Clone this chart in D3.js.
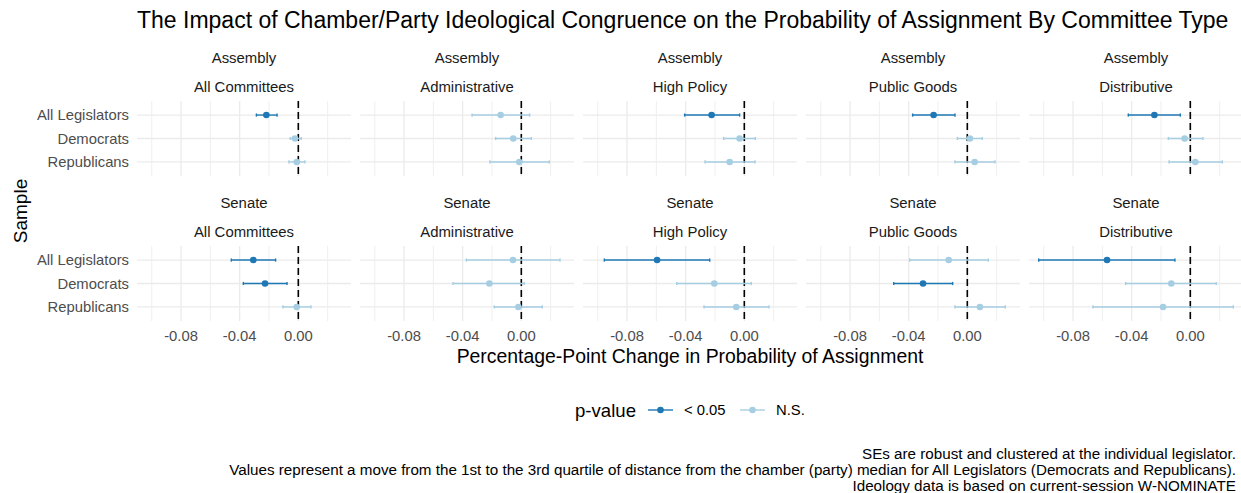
<!DOCTYPE html>
<html>
<head>
<meta charset="utf-8">
<script src="https://cdn.jsdelivr.net/npm/d3@7"></script>
<style>
  html, body { margin: 0; padding: 0; background: #ffffff; }
  svg { display: block; font-family: "Liberation Sans", Arial, sans-serif; }
</style>
</head>
<body>
<svg id="chart" width="1241" height="493"></svg>
<script>
// Facet layout: rows are chambers, columns are committee types
const chambers = ["Assembly", "Senate"];
const committeeTypes = ["All Committees", "Administrative", "High Policy", "Public Goods", "Distributive"];
const samples = ["All Legislators", "Democrats", "Republicans"];

// Marginal effects (Q1 -> Q3 distance), one row per committee type: [All, Dem, Rep]
const assemblyEstimate = [
  [-0.0218, -0.0023, -0.0011],
  [-0.0141, -0.0055, -0.0014],
  [-0.0223, -0.0032, -0.0100],
  [-0.0230,  0.0018,  0.0050],
  [-0.0245, -0.0039,  0.0034]
];
const assemblyLower = [
  [-0.0286, -0.0055, -0.0064],
  [-0.0336, -0.0175, -0.0214],
  [-0.0407, -0.0141, -0.0268],
  [-0.0373, -0.0068, -0.0084],
  [-0.0423, -0.0150, -0.0145]
];
const assemblyUpper = [
  [-0.0145,  0.0020,  0.0045],
  [ 0.0057,  0.0068,  0.0191],
  [-0.0032,  0.0075,  0.0073],
  [-0.0084,  0.0102,  0.0189],
  [-0.0068,  0.0086,  0.0218]
];
const assemblySignificant = [
  [true,  false, false],
  [false, false, false],
  [true,  false, false],
  [true,  false, false],
  [true,  false, false]
];

const senateEstimate = [
  [-0.0307, -0.0227, -0.0011],
  [-0.0057, -0.0218, -0.0020],
  [-0.0595, -0.0205, -0.0055],
  [-0.0127, -0.0302,  0.0086],
  [-0.0568, -0.0130, -0.0186]
];
const senateLower = [
  [-0.0457, -0.0375, -0.0105],
  [-0.0375, -0.0466, -0.0184],
  [-0.0955, -0.0461, -0.0275],
  [-0.0393, -0.0502, -0.0084],
  [-0.1034, -0.0441, -0.0664]
];
const senateUpper = [
  [-0.0155, -0.0077,  0.0086],
  [ 0.0264,  0.0020,  0.0143],
  [-0.0236,  0.0048,  0.0168],
  [ 0.0143, -0.0100,  0.0259],
  [-0.0105,  0.0177,  0.0293]
];
const senateSignificant = [
  [true,  true,  false],
  [false, false, false],
  [true,  false, false],
  [false, true,  false],
  [true,  false, false]
];

const majorTicks = [-0.08, -0.04, 0.00];
const majorTickLabels = ["-0.08", "-0.04", "0.00"];
const minorTicks = [-0.10, -0.06, -0.02, 0.02];
const pLevels = ["< 0.05", "N.S."];
const pColors = ["#1F78B4", "#A6CEE3"];

const titleText = "The Impact of Chamber/Party Ideological Congruence on the Probability of Assignment By Committee Type";
const xTitle = "Percentage-Point Change in Probability of Assignment";
const yTitle = "Sample";
const legendTitle = "p-value";
const captionLines = [
  "SEs are robust and clustered at the individual legislator.",
  "Values represent a move from the 1st to the 3rd quartile of distance from the chamber (party) median for All Legislators (Democrats and Republicans).",
  "Ideology data is based on current-session W-NOMINATE"
];

// Long-format rows built from the arrays above
const chamberData = {
  Assembly: [assemblyEstimate, assemblyLower, assemblyUpper, assemblySignificant],
  Senate: [senateEstimate, senateLower, senateUpper, senateSignificant]
};
const rows = [];
chambers.forEach(ch => {
  const [est, lo, hi, sig] = chamberData[ch];
  committeeTypes.forEach((ct, ci) => {
    samples.forEach((s, si) => {
      rows.push({ chamber: ch, committee: ct, sample: s,
        est: est[ci][si], lo: lo[ci][si], hi: hi[ci][si],
        p: sig[ci][si] ? pLevels[0] : pLevels[1] });
    });
  });
});

// Geometry
const panelLeft = 137, panelW = 214, panelStepX = 223;
const panelTop = 101, panelH = 75, panelStepY = 145;

const svg = d3.select("#chart");

// Shared x scale (fixed across facets) with 5% expansion
const dataMin = d3.min(rows, d => d.lo), dataMax = d3.max(rows, d => d.hi);
const pad = (dataMax - dataMin) * 0.05;
const x = d3.scaleLinear().domain([dataMin - pad, dataMax + pad]).range([0, panelW]);
const y = d3.scalePoint().domain(samples).range([0, panelH]).padding(0.6);
const color = d3.scaleOrdinal().domain(pLevels).range(pColors);

const gridColor = "#ebebeb";
const textGrey = "#4d4d4d";

chambers.forEach((ch, ri) => {
  committeeTypes.forEach((ct, ci) => {
    const px = panelLeft + ci * panelStepX;
    const py = panelTop + ri * panelStepY;
    const g = svg.append("g").attr("transform", `translate(${px},${py})`);

    // strip labels (two lines: chamber, committee type)
    svg.append("text").attr("x", px + panelW / 2).attr("y", py - 43)
      .attr("text-anchor", "middle").attr("dominant-baseline", "central")
      .attr("font-size", 14.9).attr("fill", "#1a1a1a").text(ch);
    svg.append("text").attr("x", px + panelW / 2).attr("y", py - 14.3)
      .attr("text-anchor", "middle").attr("dominant-baseline", "central")
      .attr("font-size", 14.9).attr("fill", "#1a1a1a").text(ct);

    // grid
    g.selectAll(".minor").data(minorTicks.filter(t => x(t) >= 0 && x(t) <= panelW)).join("line")
      .attr("x1", d => x(d)).attr("x2", d => x(d)).attr("y1", 0).attr("y2", panelH)
      .attr("stroke", gridColor).attr("stroke-width", 0.8);
    g.selectAll(".major").data(majorTicks).join("line")
      .attr("x1", d => x(d)).attr("x2", d => x(d)).attr("y1", 0).attr("y2", panelH)
      .attr("stroke", gridColor).attr("stroke-width", 1.3);
    g.selectAll(".hgrid").data(samples).join("line")
      .attr("x1", 0).attr("x2", panelW).attr("y1", d => y(d)).attr("y2", d => y(d))
      .attr("stroke", gridColor).attr("stroke-width", 1.3);

    // zero reference line
    g.append("line").attr("x1", x(0)).attr("x2", x(0)).attr("y1", 0).attr("y2", panelH)
      .attr("stroke", "#000").attr("stroke-width", 1.6).attr("stroke-dasharray", "7,4");

    const pdat = rows.filter(r => r.chamber === ch && r.committee === ct);

    // confidence intervals
    g.selectAll(".ci").data(pdat).join("line")
      .attr("x1", d => x(d.lo)).attr("x2", d => x(d.hi))
      .attr("y1", d => y(d.sample)).attr("y2", d => y(d.sample))
      .attr("stroke", d => color(d.p)).attr("stroke-width", 1.4);
    ["lo", "hi"].forEach(k => {
      g.selectAll(".cap-" + k).data(pdat).join("line")
        .attr("x1", d => x(d[k])).attr("x2", d => x(d[k]))
        .attr("y1", d => y(d.sample) - 1.6).attr("y2", d => y(d.sample) + 1.6)
        .attr("stroke", d => color(d.p)).attr("stroke-width", 1.4);
    });
    // point estimates
    g.selectAll(".pt").data(pdat).join("circle")
      .attr("cx", d => x(d.est)).attr("cy", d => y(d.sample)).attr("r", 3.3)
      .attr("fill", d => color(d.p));

    // y axis labels on first column
    if (ci === 0) {
      svg.append("g").selectAll("text").data(samples).join("text")
        .attr("x", px - 8).attr("y", d => py + y(d))
        .attr("text-anchor", "end").attr("dominant-baseline", "central")
        .attr("font-size", 14.8).attr("fill", textGrey).text(d => d);
    }
    // x axis labels on bottom row
    if (ri === chambers.length - 1) {
      svg.append("g").selectAll("text").data(majorTicks).join("text")
        .attr("x", d => px + x(d)).attr("y", py + panelH + 15)
        .attr("text-anchor", "middle").attr("dominant-baseline", "central")
        .attr("font-size", 14.8).attr("fill", textGrey)
        .text((d, i) => majorTickLabels[i]);
    }
  });
});

// titles
svg.append("text").attr("x", panelLeft).attr("y", 20)
  .attr("dominant-baseline", "central").attr("font-size", 23).attr("fill", "#000")
  .text(titleText);

const panelsRight = panelLeft + 4 * panelStepX + panelW;
svg.append("text").attr("x", (panelLeft + panelsRight) / 2).attr("y", 356)
  .attr("text-anchor", "middle").attr("dominant-baseline", "central")
  .attr("font-size", 19.4).attr("fill", "#000").text(xTitle);

svg.append("text")
  .attr("transform", `translate(20,${(panelTop + panelTop + panelStepY + panelH) / 2}) rotate(-90)`)
  .attr("text-anchor", "middle").attr("dominant-baseline", "central")
  .attr("font-size", 19).attr("fill", "#000").text(yTitle);

// legend
const legY = 410;
const leg = svg.append("g");
leg.append("text").attr("x", 575).attr("y", legY).attr("dominant-baseline", "central")
  .attr("font-size", 18.6).attr("fill", "#000").text(legendTitle);
const keyX = [648, 740];
pLevels.forEach((lvl, i) => {
  leg.append("line").attr("x1", keyX[i]).attr("x2", keyX[i] + 25)
    .attr("y1", legY).attr("y2", legY)
    .attr("stroke", color(lvl)).attr("stroke-width", 1.4);
  leg.append("circle").attr("cx", keyX[i] + 12.5).attr("cy", legY).attr("r", 3.3)
    .attr("fill", color(lvl));
  leg.append("text").attr("x", keyX[i] + 36).attr("y", legY)
    .attr("dominant-baseline", "central").attr("font-size", 14.8).attr("fill", "#000")
    .text(lvl);
});

// caption
svg.append("g").selectAll("text").data(captionLines).join("text")
  .attr("x", 1236).attr("y", (d, i) => 453 + i * 16)
  .attr("text-anchor", "end").attr("dominant-baseline", "central")
  .attr("font-size", 15.2).attr("fill", "#000").text(d => d);
</script>
</body>
</html>
